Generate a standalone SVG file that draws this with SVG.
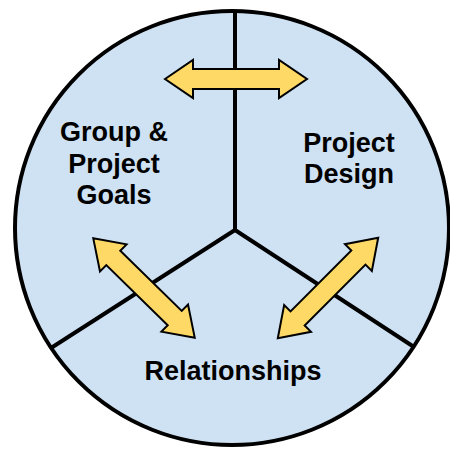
<svg xmlns="http://www.w3.org/2000/svg" width="450" height="449" viewBox="0 0 450 449">
  <style>
    .lbl { font-family: "Liberation Sans", Arial, sans-serif; font-weight: bold; font-size: 27px; fill: #000; text-anchor: middle; }
    .div { stroke: #000; stroke-width: 4; fill: none; stroke-linecap: butt; }
    .arr { fill: #ffd966; stroke: #000; stroke-width: 2; stroke-linejoin: miter; }
  </style>
  <defs>
    <polygon id="dbl" points="-71,0 -43,-19 -43,-10 43,-10 43,-19 71,0 43,19 43,10 -43,10 -43,19"/>
  </defs>
  <rect width="450" height="449" fill="#ffffff"/>
  <g id="wheel">
    <circle cx="232" cy="228" r="217" fill="#cfe2f3" stroke="#000" stroke-width="4"/>
    <line class="div" x1="235" y1="11" x2="235" y2="230"/>
    <line class="div" x1="235" y1="230" x2="51" y2="348"/>
    <line class="div" x1="235" y1="230" x2="414" y2="347"/>
  </g>
  <g id="node-goals">
    <text class="lbl" x="114" y="141">Group &amp;</text>
    <text class="lbl" x="114" y="173">Project</text>
    <text class="lbl" x="114" y="204">Goals</text>
  </g>
  <g id="node-design">
    <text class="lbl" x="349" y="152">Project</text>
    <text class="lbl" x="349" y="183">Design</text>
  </g>
  <g id="node-relationships">
    <text class="lbl" x="233" y="380">Relationships</text>
  </g>
  <g id="connectors">
    <use href="#dbl" class="arr" transform="translate(236,79)"/>
    <use href="#dbl" class="arr" transform="translate(144,288) rotate(44.4)"/>
    <use href="#dbl" class="arr" transform="translate(328,288) rotate(-45)"/>
  </g>
</svg>
